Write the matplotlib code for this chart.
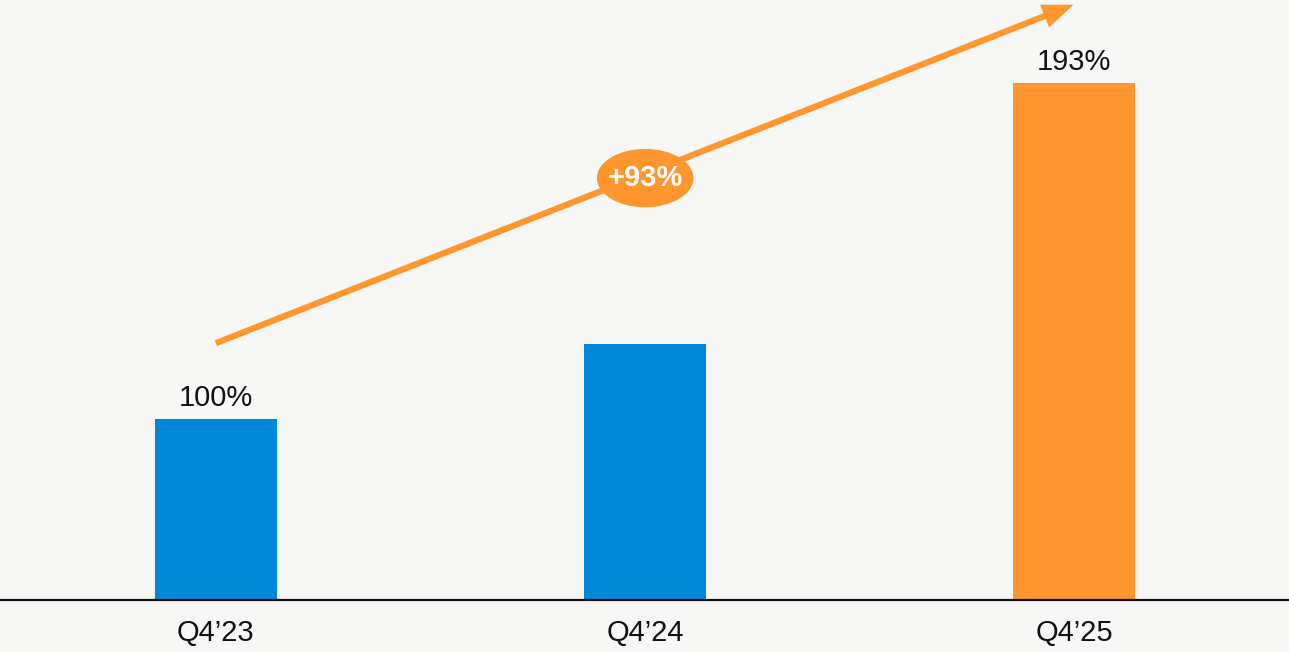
import matplotlib
matplotlib.use("Agg")
import matplotlib.pyplot as plt
from matplotlib.patches import Ellipse

plt.rcParams['font.family'] = ['Liberation Sans', 'DejaVu Sans']

quarters = ["Q4\u201923", "Q4\u201924", "Q4\u201925"]
values = [100, 121, 193]
labels = ["100%", "", "193%"]
colors = ["#0088d8", "#0088d8", "#ff962e"]
growth_label = "+93%"

bg = "#f7f7f5"
fig = plt.figure(figsize=(12.89, 6.52), dpi=100, facecolor=bg)
ax = fig.add_axes([0, 52 / 652, 1, 600 / 652])
ax.set_facecolor(bg)

x = list(range(len(quarters)))
bars = ax.bar(x, values, width=0.284, color=colors, bottom=0, zorder=2)
ax.set_ylim(50, 216.1)
ax.set_xlim(-0.503, 2.5)

for xi, v, lab in zip(x, values, labels):
    if lab:
        ax.annotate(lab, (xi, v), xytext=(0, 5), textcoords="offset points",
                    ha="center", va="bottom", fontsize=21, color="#111111")

ax.set_xticks(x)
ax.set_xticklabels(quarters, fontsize=21, color="#111111")
ax.tick_params(axis="x", length=0, pad=14)
ax.set_yticks([])
for s in ["top", "right", "left"]:
    ax.spines[s].set_visible(False)
ax.spines["bottom"].set_linewidth(1.6)
ax.spines["bottom"].set_color("#111111")
ax.spines["bottom"].set_zorder(3)

# growth arrow from the first to the last quarter
orange = "#ff962e"
ax.annotate("", xy=(1.998, 214.8), xytext=(0.0, 121.1),
            arrowprops=dict(arrowstyle="-|>,head_length=1.4,head_width=0.55",
                            color=orange, lw=4.5, shrinkA=0, shrinkB=0,
                            capstyle="butt", joinstyle="miter"),
            zorder=4)

# badge with the growth figure
ex, ey = 1.0, 50 + (600 - 178) / 3.613
ell = Ellipse((ex, ey), width=95 / 429, height=57 / 3.613, color=orange, zorder=5)
ax.add_patch(ell)
ax.text(ex, ey, growth_label, ha="center", va="center", fontsize=21,
        fontweight="bold", color="white", zorder=6)

fig.savefig("out.png", dpi=100, facecolor=bg)
